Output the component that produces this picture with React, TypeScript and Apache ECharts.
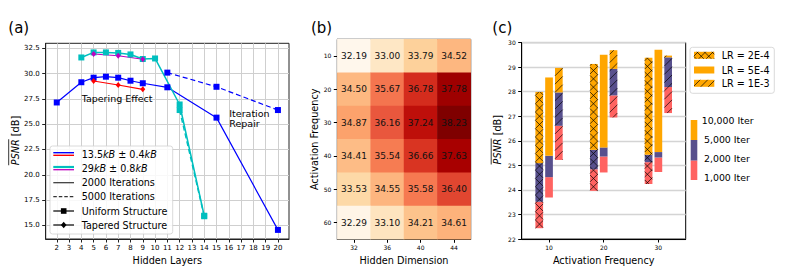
import React, { useEffect, useRef } from 'react';
import * as echarts from 'echarts';

const FONT = 'DejaVu Sans';

// ---------- Panel (a) data ----------
const xTicksA = [2, 3, 4, 5, 6, 7, 8, 9, 10, 11, 12, 13, 14, 15, 16, 17, 18, 19, 20];
const yTicksA = [15, 17.5, 20, 22.5, 25, 27.5, 30, 32.5];
const layersBlue2000 = [2, 4, 5, 6, 7, 8, 9, 11, 15, 20];
const psnrBlue2000 = [27.15, 29.15, 29.6, 29.7, 29.6, 29.3, 29.05, 28.65, 25.65, 14.55];
const layersBlue5000 = [11, 15, 20];
const psnrBlue5000 = [30.1, 28.7, 26.4];
const layersRedTaper = [5, 7, 9];
const psnrRedTaper = [29.27, 28.88, 28.45];
const layersCyan2000 = [4, 5, 6, 7, 8, 9, 10, 12, 14];
const psnrCyan2000 = [31.6, 32.1, 32.1, 32.05, 31.9, 31.45, 31.5, 26.95, 15.95];
const layersCyan5000 = [12, 14];
const psnrCyan5000 = [26.4, 15.9];
const layersMagentaTaper = [5, 7, 9];
const psnrMagentaTaper = [31.94, 31.77, 31.42];

// ---------- Panel (b) data ----------
const hiddenDims = ['32', '36', '40', '44'];
const actFreqsB = ['10', '20', '30', '40', '50', '60'];
const psnrGrid = [
  [32.19, 33.0, 33.79, 34.52],
  [34.5, 35.67, 36.78, 37.78],
  [34.87, 36.16, 37.24, 38.23],
  [34.41, 35.54, 36.66, 37.63],
  [33.53, 34.55, 35.58, 36.4],
  [32.29, 33.1, 34.21, 34.61],
];

// ---------- Panel (c) data ----------
const freqCats = ['10', '20', '30'];
const lrLabels = ['LR = 2E-4', 'LR = 5E-4', 'LR = 1E-3'];
const iterLabels = ['10,000 Iter', '5,000 Iter', '2,000 Iter', '1,000 Iter'];
// per frequency: [1,000 iter, 2,000 iter, 5,000 iter, 10,000 iter]
const psnrLR2e4 = [
  [22.44, 23.52, 25.09, 27.99],
  [23.96, 24.84, 25.63, 29.13],
  [24.24, 25.13, 25.43, 29.38],
];
const psnrLR5e4 = [
  [23.69, 24.52, 25.39, 28.58],
  [24.71, 25.36, 25.73, 29.51],
  [24.73, 25.32, 25.54, 29.71],
];
const psnrLR1e3 = [
  [25.22, 26.61, 27.97, 28.97],
  [26.95, 27.85, 28.93, 29.69],
  [27.13, 28.19, 29.4, 29.47],
];

const ORRD = ['#fff7ec', '#fee8c8', '#fdd49e', '#fdbb84', '#fc8d59', '#ef6548', '#d7301f', '#b30000', '#7f0000'];
const C_ORANGE = '#ffa600';
const C_PURPLE = '#58508d';
const C_RED = '#ff6361';

const GA = { left: 45.7, top: 43.3, width: 243.3, height: 195.7 };
const GB = { left: 337.3, top: 39.3, width: 133.4, height: 200 };
const GC = { left: 521.7, top: 42.6, width: 164, height: 196.4 };

function hatchSegs(x0: number, y0: number, x1: number, y1: number, kind: string, d: number) {
  const segs: number[][] = [];
  if (kind === 'x' || kind === '/') {
    const cMin = x0 + y0, cMax = x1 + y1;
    for (let c = Math.ceil(cMin / d) * d; c <= cMax; c += d) {
      const xa = Math.max(x0, c - y1), xb = Math.min(x1, c - y0);
      if (xb > xa + 0.01) segs.push([xa, c - xa, xb, c - xb]);
    }
  }
  if (kind === 'x') {
    const cMin = x0 - y1, cMax = x1 - y0;
    for (let c = Math.ceil(cMin / d) * d; c <= cMax; c += d) {
      const xa = Math.max(x0, y0 + c), xb = Math.min(x1, y1 + c);
      if (xb > xa + 0.01) segs.push([xa, xa - c, xb, xb - c]);
    }
  }
  return segs;
}

function hatchLineEls(segs: number[][], z2 = 10) {
  return segs.map((s) => ({
    type: 'line',
    shape: { x1: s[0], y1: s[1], x2: s[2], y2: s[3] },
    style: { stroke: 'rgba(0,0,0,0.85)', lineWidth: 0.8 },
    z2,
  }));
}

function lineSeries(xs: number[], ys: number[], color: string, dashed: boolean, symbol: string, width: number, size: number | number[]) {
  return {
    type: 'line',
    xAxisIndex: 0,
    yAxisIndex: 0,
    data: xs.map((x, i) => [x, ys[i]]),
    symbol,
    symbolSize: size,
    showAllSymbol: true,
    lineStyle: { color, width, type: dashed ? [5, 3] : 'solid' },
    itemStyle: { color },
    silent: true,
    z: 3,
  };
}

function barSeries(rows: number[][], offset: number, hatch: string) {
  return {
    type: 'custom',
    coordinateSystem: 'cartesian2d',
    xAxisIndex: 2,
    yAxisIndex: 2,
    silent: true,
    data: rows.map((r, i) => [i, r[0], r[1], r[2], r[3]]),
    encode: { x: 0, y: [1, 2, 3, 4] },
    renderItem: (params: any, api: any) => {
      const ci = api.value(0);
      const vals = [api.value(1), api.value(2), api.value(3), api.value(4)];
      const xc = api.coord([ci, vals[0]])[0] + offset;
      const ys = vals.map((v: number) => api.coord([ci, v])[1]);
      const w = 7.7;
      const x0 = xc - w / 2;
      const colors = [C_RED, C_PURPLE, C_ORANGE];
      const children: any[] = [];
      for (let k = 0; k < 3; k++) {
        children.push({
          type: 'rect',
          shape: { x: x0, y: ys[k + 1], width: w, height: ys[k] - ys[k + 1] },
          style: { fill: colors[k] },
        });
      }
      if (hatch !== '') {
        children.push(...hatchLineEls(hatchSegs(x0, ys[3], x0 + w, ys[0], hatch, 8.3)));
      }
      return { type: 'group', children };
    },
  };
}

function psnrTitle(cx: number, cy: number) {
  const fs = 9.7;
  const wP = 26.0;
  const wAll = 49.5;
  return {
    type: 'group',
    x: cx,
    y: cy,
    rotation: Math.PI / 2,
    children: [
      {
        type: 'text',
        style: {
          text: '{i|PSNR} [dB]',
          x: 0,
          y: 0,
          align: 'center',
          verticalAlign: 'middle',
          fontFamily: FONT,
          fontSize: fs,
          fill: '#000',
          rich: { i: { fontStyle: 'italic', fontFamily: FONT, fontSize: fs, fill: '#000' } },
        },
      },
      {
        type: 'line',
        shape: { x1: -wAll / 2, y1: -6.3, x2: -wAll / 2 + wP, y2: -6.3 },
        style: { stroke: '#000', lineWidth: 0.8 },
      },
    ],
  };
}

function txt(text: string, x: number, y: number, fs: number, extra: any = {}) {
  return {
    type: 'text',
    z: 50,
    style: { text, x, y, fontFamily: FONT, fontSize: fs, fill: '#000', verticalAlign: 'middle', align: 'left', ...extra },
  };
}

function buildGraphics() {
  const g: any[] = [];
  g.push(txt('(a)', 8.3, 27.5, 15));
  g.push(txt('(b)', 311, 27.5, 15));
  g.push(txt('(c)', 492.3, 27.5, 15));
  g.push(txt('Tapering Effect', 81.7, 98.7, 9.5));
  g.push(txt('Iteration\nRepair', 229.3, 118.6, 9.5, { lineHeight: 10.7 }));
  g.push(psnrTitle(15, 140.5));
  g.push(psnrTitle(497.5, 139.7));

  // Legend (a)
  const lx0 = 53.3, lx1 = 74, tx = 81.7, fs = 9.6;
  g.push({
    type: 'rect', z: 40,
    shape: { x: 50, y: 146, width: 122.7, height: 88, r: 2.5 },
    style: { fill: 'rgba(255,255,255,0.85)', stroke: '#d0d0d0', lineWidth: 0.8 },
  });
  const rows = [154, 168.3, 182.7, 196.7, 211, 225];
  const ln = (y: number, color: string, w: number, dash?: number[]) => ({
    type: 'line', z: 45,
    shape: { x1: lx0, y1: y, x2: lx1, y2: y },
    style: { stroke: color, lineWidth: w, lineDash: dash },
  });
  g.push(ln(rows[0] - 1.3, '#0000ff', 1.4));
  g.push(ln(rows[0] + 1.3, '#ff0000', 1.4));
  g.push(ln(rows[1] - 1.3, '#00bfbf', 2.2));
  g.push(ln(rows[1] + 1.4, '#bf00bf', 1.3));
  g.push(ln(rows[2], '#333', 1.2));
  g.push(ln(rows[3], '#333', 1.2, [3.5, 2]));
  g.push(ln(rows[4], '#000', 1.2));
  g.push(ln(rows[5], '#000', 1.2));
  g.push({ type: 'rect', z: 46, shape: { x: 63.7 - 2.8, y: rows[4] - 2.8, width: 5.6, height: 5.6 }, style: { fill: '#000' } });
  g.push({ type: 'polygon', z: 46, shape: { points: [[63.7, rows[5] - 3.2], [66.5, rows[5]], [63.7, rows[5] + 3.2], [60.9, rows[5]]] }, style: { fill: '#000' } });
  const rich = { i: { fontStyle: 'italic', fontFamily: FONT, fontSize: fs, fill: '#000' } };
  g.push(txt('13.5{i|kB} ± 0.4{i|kB}', tx, rows[0], fs, { rich }));
  g.push(txt('29{i|kB} ± 0.8{i|kB}', tx, rows[1], fs, { rich }));
  g.push(txt('2000 Iterations', tx, rows[2], fs));
  g.push(txt('5000 Iterations', tx, rows[3], fs));
  g.push(txt('Uniform Structure', tx, rows[4], fs));
  g.push(txt('Tapered Structure', tx, rows[5], fs));

  // Legend (c) - learning rates
  g.push({
    type: 'rect', z: 40,
    shape: { x: 690, y: 47.3, width: 84.3, height: 46, r: 2.5 },
    style: { fill: '#fff', stroke: '#d0d0d0', lineWidth: 0.8 },
  });
  const lrRows = [55.3, 70, 83.3];
  const hatches = ['x', '', '/'];
  lrRows.forEach((y, i) => {
    const px0 = 694, pw = 20.3, ph = 7;
    g.push({ type: 'rect', z: 45, shape: { x: px0, y: y - ph / 2, width: pw, height: ph }, style: { fill: C_ORANGE } });
    if (hatches[i]) {
      hatchLineEls(hatchSegs(px0, y - ph / 2, px0 + pw, y + ph / 2, hatches[i], 7.5)).forEach((el: any) => {
        el.z = 46;
        g.push(el);
      });
    }
    g.push(txt(lrLabels[i], 721.7, y, 9.6));
  });

  // Legend (c) - iterations colour bar
  const cbx = 690.7, cbw = 6.6;
  const cbY = [120, 140, 160.7, 180];
  const cbCols = [C_ORANGE, C_PURPLE, C_RED];
  for (let k = 0; k < 3; k++) {
    g.push({ type: 'rect', z: 45, shape: { x: cbx, y: cbY[k], width: cbw, height: cbY[k + 1] - cbY[k] }, style: { fill: cbCols[k] } });
  }
  const itY = [120, 139.3, 158.3, 177.3];
  const itX = [701.7, 704, 704, 704];
  iterLabels.forEach((t, i) => g.push(txt(t, itX[i], itY[i], 9.4)));
  return g;
}

export default function App() {
  const ref = useRef<HTMLDivElement>(null);
  useEffect(() => {
    if (!ref.current) return;
    const chart = echarts.init(ref.current, undefined, { renderer: 'svg' });
    const axisLabelBase = { color: '#000', fontFamily: FONT };
    const heatData: number[][] = [];
    psnrGrid.forEach((row, r) => row.forEach((v, c) => heatData.push([c, r, v])));

    const option: any = {
      animation: false,
      textStyle: { fontFamily: FONT },
      grid: [
        { ...GA, show: true, borderColor: '#222', borderWidth: 1, containLabel: false },
        { ...GB, show: true, borderColor: '#000', borderWidth: 1, containLabel: false },
        { ...GC, show: true, borderColor: '#000', borderWidth: 1, containLabel: false },
      ],
      xAxis: [
        {
          gridIndex: 0, type: 'value', min: 1.1, max: 20.9,
          axisLine: { show: true, lineStyle: { color: '#222' } },
          axisTick: { show: true, customValues: xTicksA, length: 3.5, lineStyle: { color: '#222' } },
          axisLabel: { ...axisLabelBase, customValues: xTicksA, fontSize: 7, margin: 5, formatter: (v: number) => String(v) },
          splitLine: { show: true, lineStyle: { color: '#cfcfcf', width: 1 } },
          name: 'Hidden Layers', nameLocation: 'middle', nameGap: 15,
          nameTextStyle: { color: '#000', fontSize: 9.7, fontFamily: FONT },
        },
        {
          gridIndex: 1, type: 'category', data: hiddenDims,
          axisLine: { show: true, lineStyle: { color: '#000' } },
          axisTick: { show: true, alignWithLabel: true, length: 3.5, lineStyle: { color: '#000' } },
          axisLabel: { ...axisLabelBase, fontSize: 6, margin: 5.5 },
          splitLine: { show: false },
          name: 'Hidden Dimension', nameLocation: 'middle', nameGap: 14.5,
          nameTextStyle: { color: '#000', fontSize: 9.7, fontFamily: FONT },
        },
        {
          gridIndex: 2, type: 'category', data: freqCats,
          axisLine: { show: true, lineStyle: { color: '#000' } },
          axisTick: { show: true, alignWithLabel: true, length: 3.5, lineStyle: { color: '#000' } },
          axisLabel: { ...axisLabelBase, fontSize: 6, margin: 5.5 },
          splitLine: { show: false },
          name: 'Activation Frequency', nameLocation: 'middle', nameGap: 15,
          nameTextStyle: { color: '#000', fontSize: 9.7, fontFamily: FONT },
        },
      ],
      yAxis: [
        {
          gridIndex: 0, type: 'value', min: 13.65, max: 33.0,
          axisLine: { show: true, lineStyle: { color: '#222' } },
          axisTick: { show: true, customValues: yTicksA, length: 3.5, lineStyle: { color: '#222' } },
          axisLabel: { ...axisLabelBase, customValues: yTicksA, fontSize: 7, margin: 6, formatter: (v: number) => v.toFixed(1) },
          splitLine: { show: true, lineStyle: { color: '#cfcfcf', width: 1 } },
        },
        {
          gridIndex: 1, type: 'category', data: actFreqsB, inverse: true,
          axisLine: { show: true, lineStyle: { color: '#000' } },
          axisTick: { show: true, alignWithLabel: true, length: 3.5, lineStyle: { color: '#000' } },
          axisLabel: { ...axisLabelBase, fontSize: 6, margin: 6 },
          splitLine: { show: false },
          name: 'Activation Frequency', nameLocation: 'middle', nameGap: 17, nameRotate: 90,
          nameTextStyle: { color: '#000', fontSize: 9.7, fontFamily: FONT },
        },
        {
          gridIndex: 2, type: 'value', min: 22, max: 30, interval: 1,
          axisLine: { show: true, lineStyle: { color: '#000' } },
          axisTick: { show: true, length: 3.5, lineStyle: { color: '#000' } },
          axisLabel: { ...axisLabelBase, fontSize: 6, margin: 6 },
          splitLine: { show: true, lineStyle: { color: '#d4d4d4', width: 1.4 } },
        },
      ],
      visualMap: [
        {
          type: 'continuous', show: false, seriesIndex: 6, dimension: 2,
          min: 32.19, max: 38.23, inRange: { color: ORRD },
        },
      ],
      series: [
        lineSeries(layersBlue2000, psnrBlue2000, '#0000ff', false, 'rect', 1.2, 6),
        lineSeries(layersBlue5000, psnrBlue5000, '#0000ff', true, 'rect', 1.2, 6),
        lineSeries(layersRedTaper, psnrRedTaper, '#ff0000', false, 'diamond', 1.2, [5, 6]),
        lineSeries(layersCyan2000, psnrCyan2000, '#00bfbf', false, 'rect', 1.5, 6),
        lineSeries(layersCyan5000, psnrCyan5000, '#00bfbf', true, 'rect', 1.5, 6),
        lineSeries(layersMagentaTaper, psnrMagentaTaper, '#bf00bf', false, 'diamond', 1.2, [5, 6]),
        {
          type: 'heatmap', xAxisIndex: 1, yAxisIndex: 1, data: heatData, silent: true,
          label: {
            show: true, color: '#111', fontSize: 9, fontFamily: FONT,
            textBorderWidth: 0, textBorderColor: 'transparent', textShadowBlur: 0,
            formatter: (p: any) => Number(p.value[2]).toFixed(2),
          },
        },
        barSeries(psnrLR2e4, -9.8, 'x'),
        barSeries(psnrLR5e4, 0, ''),
        barSeries(psnrLR1e3, 9.8, '/'),
      ],
      graphic: buildGraphics(),
    };
    chart.setOption(option);
    return () => chart.dispose();
  }, []);
  return (
    <div
      ref={ref}
      style={{ position: 'fixed', left: 0, top: 0, width: 789, height: 280, background: '#fff' }}
    />
  );
}
